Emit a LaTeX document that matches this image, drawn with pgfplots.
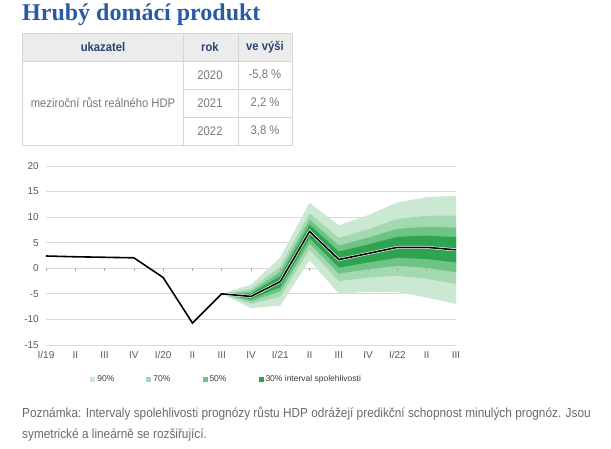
\documentclass[border=0pt]{standalone}
\usepackage{pgfplots}
\pgfplotsset{compat=1.18}
\usepackage{fontspec}
\setmainfont{Liberation Sans}
\newfontfamily\titlefont{Liberation Serif}
\newfontfamily\condfont[FakeStretch=0.9]{Liberation Sans}

\definecolor{titleblue}{RGB}{42,90,165}
\definecolor{hdrblue}{RGB}{40,68,115}
\definecolor{hdrfill}{RGB}{236,236,236}
\definecolor{tabline}{RGB}{214,214,214}
\definecolor{bodygray}{RGB}{120,120,120}
\definecolor{notegray}{RGB}{105,105,105}
\definecolor{tickgray}{RGB}{89,89,89}
\definecolor{leggray}{RGB}{60,60,60}
\definecolor{gridgray}{RGB}{217,217,217}
\definecolor{g90}{RGB}{203,232,210}
\definecolor{g70}{RGB}{164,216,177}
\definecolor{g50}{RGB}{110,195,133}
\definecolor{g30}{RGB}{46,164,80}

\begin{document}
\begin{tikzpicture}
% page in pixel coordinates, y downwards
\begin{scope}[x=1pt,y=-1pt,yshift=449pt]
  \path[use as bounding box] (0,0) rectangle (611,449);
  \node[anchor=base west,inner sep=0pt,text=titleblue,
        font=\titlefont\bfseries\fontsize{24}{26}\selectfont] at (22,21) {Hrubý domácí produkt};
  % table
  \fill[hdrfill] (22,33) rectangle (292,61);
  \draw[tabline] (22,33) rectangle (292,145);
  \draw[tabline] (22,61) -- (292,61);
  \draw[tabline] (183,33) -- (183,145);
  \draw[tabline] (238,33) -- (238,145);
  \draw[tabline] (183,89) -- (292,89);
  \draw[tabline] (183,117) -- (292,117);
  \begin{scope}[every node/.style={inner sep=0pt,font=\condfont\fontsize{12.5}{14}\selectfont}]
    \node[text=hdrblue,font=\condfont\bfseries\fontsize{12.5}{14}\selectfont] at (103,47) {ukazatel};
    \node[text=hdrblue,font=\condfont\bfseries\fontsize{12.5}{14}\selectfont] at (210,47) {rok};
    \node[text=hdrblue,font=\condfont\bfseries\fontsize{12.5}{14}\selectfont] at (265,47) {ve výši};
    \node[text=bodygray] at (103,103) {meziroční růst reálného HDP};
    \node[text=bodygray] at (210,75) {2020};
    \node[text=bodygray] at (210,103) {2021};
    \node[text=bodygray] at (210,131) {2022};
    \node[text=bodygray] at (265,75) {-5,8 \%};
    \node[text=bodygray] at (265,103) {2,2 \%};
    \node[text=bodygray] at (265,131) {3,8 \%};
  \end{scope}
  % note
  \begin{scope}[every node/.style={anchor=base west,inner sep=0pt,text=notegray,
        font=\condfont\fontsize{13.15}{15}\selectfont}]
    \node at (22,418) {Poznámka: Intervaly spolehlivosti prognózy růstu HDP odrážejí predikční schopnost minulých prognóz. Jsou};
    \node at (22,439) {symetrické a lineárně se rozšiřující.};
  \end{scope}
\end{scope}

\begin{axis}[
    at={(46pt,104pt)}, anchor=south west,
    scale only axis, width=410pt, height=179pt,
    xmin=0, xmax=14, ymin=-15, ymax=20,
    xtick={0,...,14},
    xticklabels={I/19,II,III,IV,I/20,II,III,IV,I/21,II,III,IV,I/22,II,III},
    ytick={-15,-10,-5,0,5,10,15,20},
    axis line style={draw=none},
    major tick length=0pt,
    ymajorgrids=true,
    grid style={gridgray, line width=0.8pt},
    /pgf/number format/assume math mode=true,
    ticklabel style={font=\fontsize{10}{12}\selectfont, text=tickgray, inner sep=0pt},
    yticklabel style={anchor=east, xshift=-7pt},
    xticklabel style={anchor=north, yshift=-6pt},
    legend columns=4,
    legend style={at={(0.108,-0.19)}, anchor=west, draw=none, fill=none,
        inner sep=0pt, font=\fontsize{8.5}{10}\selectfont, text=leggray,
        /tikz/every even column/.append style={column sep=30pt}},
    legend image code/.code={\fill[#1, draw=none] (0pt,-2.5pt) rectangle (5pt,2.5pt);},
]
\addplot[fill=g90, draw=none] coordinates {
  (6,-5.0) (7,-3.2) (8,2.1) (9,12.8) (10,8.4) (11,10.4) (12,12.9) (13,13.9) (14,14.2)
  (14,-7.0) (13,-5.7) (12,-4.7) (11,-4.6) (10,-5.0) (9,1.6) (8,-7.3) (7,-7.8)
} -- cycle;
\addplot[fill=g70, draw=none] coordinates {
  (6,-5.0) (7,-4.05) (8,0.36) (9,10.73) (10,5.92) (11,7.63) (12,9.64) (13,10.27) (14,10.28)
  (14,-3.08) (13,-2.07) (12,-1.44) (11,-1.83) (10,-2.52) (9,3.67) (8,-5.56) (7,-6.95)
} -- cycle;
\addplot[fill=g50, draw=none] coordinates {
  (6,-5.0) (7,-4.56) (8,-0.67) (9,9.5) (10,4.45) (11,5.98) (12,7.71) (13,8.12) (14,7.95)
  (14,-0.75) (13,0.08) (12,0.49) (11,-0.18) (10,-1.05) (9,4.9) (8,-4.53) (7,-6.44)
} -- cycle;
\addplot[fill=g30, draw=none] coordinates {
  (6,-5.0) (7,-4.96) (8,-1.5) (9,8.51) (10,3.27) (11,4.66) (12,6.16) (13,6.39) (14,6.08)
  (14,1.12) (13,1.81) (12,2.04) (11,1.14) (10,0.13) (9,5.89) (8,-3.7) (7,-6.04)
} -- cycle;
\legend{90\%, 70\%, 50\%, 30\% interval spolehlivosti}

% small ticks on the zero line
\pgfplotsinvokeforeach{0,...,14}{
  \draw[gray!70, line width=0.6pt] (axis cs:#1,0) -- ([yshift=-2.5pt]axis cs:#1,0);
}

\addplot[white, line width=2.8pt, forget plot] coordinates {
  (6,-5.0) (7,-5.5) (8,-2.6) (9,7.2) (10,1.7) (11,2.9) (12,4.1) (13,4.1) (14,3.6)
};
\addplot[black, line width=1.6pt, forget plot] coordinates {
  (0,2.4) (1,2.25) (2,2.15) (3,2.05) (4,-1.8) (5,-10.7) (6,-5.0)
  (7,-5.5) (8,-2.6) (9,7.2) (10,1.7) (11,2.9) (12,4.1) (13,4.1) (14,3.6)
};
\end{axis}
\end{tikzpicture}
\end{document}
